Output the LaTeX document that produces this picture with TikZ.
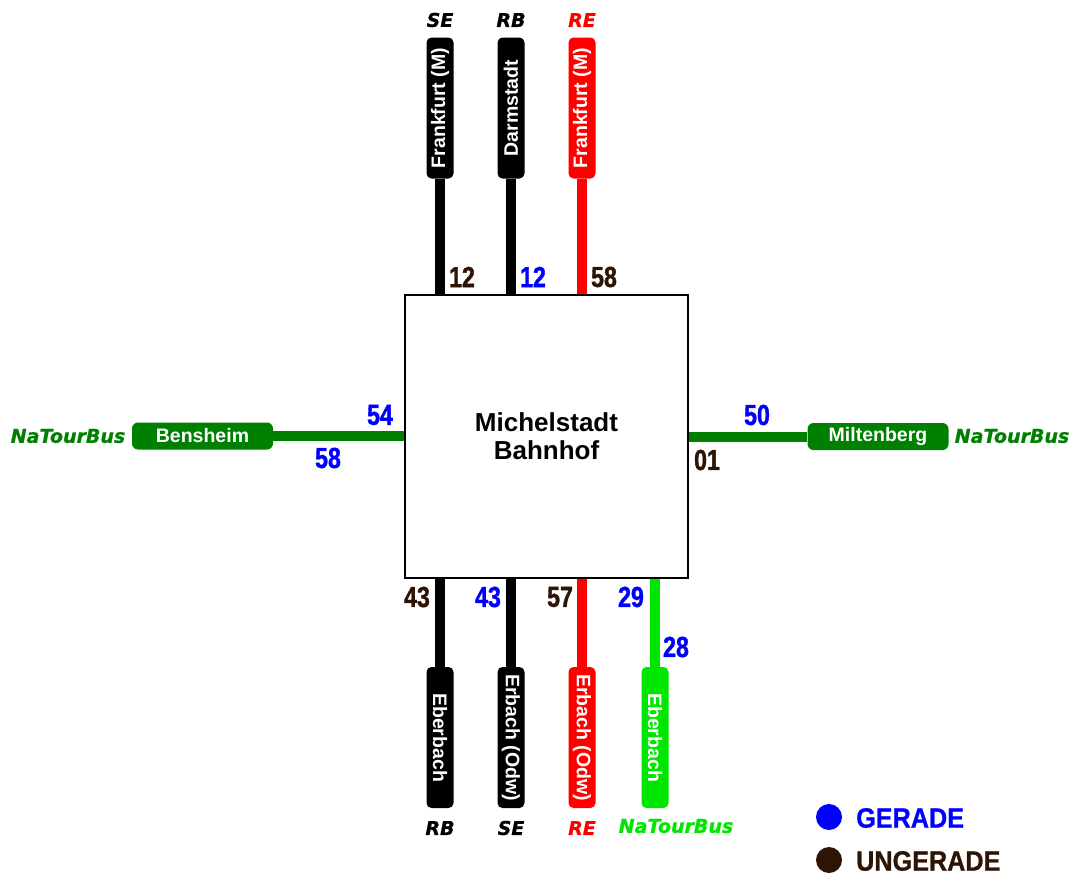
\documentclass[tikz,border=0pt]{standalone}
\usepackage{fontspec}
\setmainfont{Liberation Sans}
\newfontfamily\numfont[FakeStretch=0.8,FakeBold=1.2]{Liberation Sans}
\newfontfamily\legfont[FakeStretch=0.9,FakeBold=0.8]{Liberation Sans}
\newfontfamily\tagfont[FakeBold=0.8]{DejaVu Sans}
\definecolor{gerade}{RGB}{0,0,255}
\definecolor{ungerade}{RGB}{45,20,5}
\definecolor{busgreen}{RGB}{0,128,0}
\definecolor{litegreen}{RGB}{0,230,0}
\definecolor{rered}{RGB}{255,0,0}
\tikzset{
  vpill/.style={fill=#1, rounded corners=5pt, inner sep=0pt,
    minimum width=27pt, minimum height=141pt, text=white,
    font=\fontsize{19.5}{21}\selectfont\bfseries},
  hpill/.style={fill=#1, rounded corners=6pt, inner sep=0pt,
    minimum width=141pt, minimum height=27pt, text=white,
    font=\fontsize{19.5}{21}\selectfont\bfseries},
  route/.style={line width=10pt, draw=#1},
  num/.style={text=#1, inner sep=0pt,
    font=\numfont\fontsize{29}{31}\selectfont\bfseries},
  tag/.style={text=#1, inner sep=0pt,
    font=\tagfont\fontsize{19}{21}\selectfont\bfseries\itshape},
  legend/.style={text=#1, inner sep=0pt, anchor=west,
    font=\legfont\fontsize{28}{30}\selectfont\bfseries},
  dot/.style={circle, fill=#1, minimum size=26pt, inner sep=0pt}
}
\begin{document}
\begin{tikzpicture}[x=1pt,y=-1pt]
\useasboundingbox (0,0) rectangle (1070,879);

% station
\node[draw=black, line width=2pt, minimum size=283pt, inner sep=0pt,
      align=center, font=\fontsize{26}{28}\selectfont\bfseries]
  (hub) at (546.5,436.5) {Michelstadt\\Bahnhof};

% northern branches
\node[vpill=black] (nse) at (440,108) {\rotatebox{90}{Frankfurt (M)}};
\node[vpill=black] (nrb) at (511,108) {\rotatebox{90}{Darmstadt}};
\node[vpill=rered] (nre) at (582,108) {\rotatebox{90}{Frankfurt (M)}};
\draw[route=black] (nse.south) -- (nse.south |- hub.north);
\draw[route=black] (nrb.south) -- (nrb.south |- hub.north);
\draw[route=rered] (nre.south) -- (nre.south |- hub.north);
\node[tag=black] (tnse) at (440,20) {SE};
\node[tag=black] (tnrb) at (511,20) {RB};
\node[tag=rered] (tnre) at (582,20) {RE};
\node[num=ungerade] (n1) at (462,277) {12};
\node[num=gerade]   (n2) at (533,277) {12};
\node[num=ungerade] (n3) at (604,277) {58};

% western branch
\node[hpill=busgreen] (wbus) at (202.5,436) {Bensheim};
\draw[route=busgreen] (wbus.east) -- (wbus.east -| hub.west);
\node[tag=busgreen] (twbus) at (68,436) {NaTourBus};
\node[num=gerade] (w1) at (380,415) {54};
\node[num=gerade] (w2) at (328,458) {58};

% eastern branch
\node[hpill=busgreen] (ebus) at (878,436.5) {Miltenberg};
\draw[route=busgreen] (hub.east |- ebus.west) -- (ebus.west);
\node[tag=busgreen] (tebus) at (1012,436) {NaTourBus};
\node[num=gerade]   (e1) at (757,415) {50};
\node[num=ungerade] (e2) at (707,460) {01};

% southern branches
\node[vpill=black]     (srb) at (440,737.5) {\rotatebox{-90}{Eberbach}};
\node[vpill=black]     (sse) at (511,737.5) {\rotatebox{-90}{Erbach (Odw)}};
\node[vpill=rered]     (sre) at (582,737.5) {\rotatebox{-90}{Erbach (Odw)}};
\node[vpill=litegreen] (sbus) at (655,737.5) {\rotatebox{-90}{Eberbach}};
\draw[route=black]     (srb.north) -- (srb.north |- hub.south);
\draw[route=black]     (sse.north) -- (sse.north |- hub.south);
\draw[route=rered]     (sre.north) -- (sre.north |- hub.south);
\draw[route=litegreen] (sbus.north) -- (sbus.north |- hub.south);
\node[tag=black]     (tsrb) at (440,828) {RB};
\node[tag=black]     (tsse) at (511,828) {SE};
\node[tag=rered]     (tsre) at (582,828) {RE};
\node[tag=litegreen] (tsbus) at (676,826) {NaTourBus};
\node[num=ungerade] (s1) at (417,597) {43};
\node[num=gerade]   (s2) at (488,597) {43};
\node[num=ungerade] (s3) at (560,597) {57};
\node[num=gerade]   (s4) at (631,597) {29};
\node[num=gerade]   (s5) at (676,647) {28};

% legend
\node[dot=gerade]   (lg) at (829,817) {};
\node[dot=ungerade] (lu) at (829,860) {};
\node[legend=gerade]   (lgt) at (856,818) {GERADE};
\node[legend=ungerade] (lut) at (856,861) {UNGERADE};
\end{tikzpicture}
\end{document}
